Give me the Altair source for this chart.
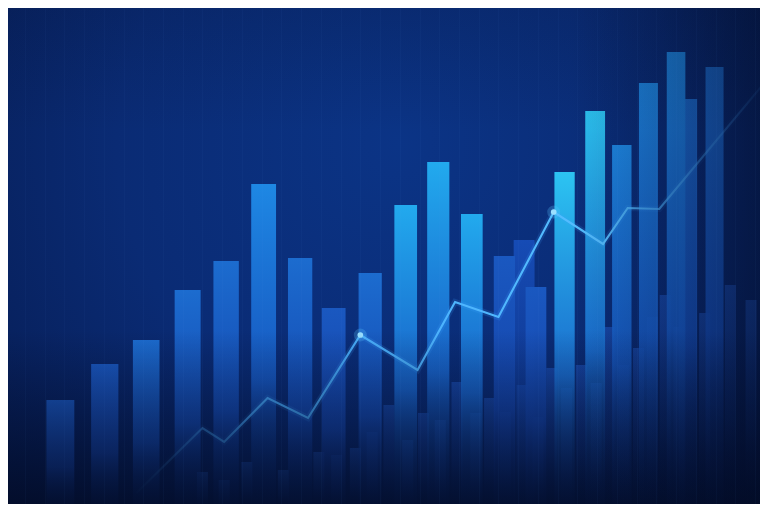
import altair as alt
import pandas as pd

# ---- data ----
# foreground bars: position along the time axis and value
bar_pos = [56, 101, 143, 185, 224, 262, 299, 333, 370, 406, 439, 473, 506, 526, 538, 567, 598, 625, 652, 680, 692, 719]
bar_val = [112, 148, 172, 222, 251, 328, 254, 204, 239, 307, 350, 298, 256, 272, 225, 340, 401, 367, 429, 460, 413, 445]
bar_tone = ["t1", "t1", "t2", "t2", "t2", "t3", "t2", "t1", "t2", "t4", "t4", "t4",
            "t1", "t0", "t1", "t5", "t5", "t3", "t3", "t3", "t2", "t2"]

# faint background volume bars
low_pos = [200, 222, 245, 282, 318, 336, 355, 372, 389, 408, 424, 441, 458, 477, 491, 507, 524, 540, 554,
           569, 584, 599, 612, 627, 642, 656, 669, 683, 709, 735, 756]
low_val = [40, 32, 50, 42, 60, 57, 64, 80, 107, 72, 99, 92, 130, 99, 114, 100, 127, 95, 144, 124, 147, 129,
           185, 147, 164, 195, 217, 185, 199, 227, 212]

# trend line
line_pos = [133, 200, 222, 266, 307, 360, 418, 456, 500, 556, 606, 631, 663, 766]
line_val = [19, 84, 70, 114, 94, 177, 142, 210, 195, 300, 268, 304, 303, 425]

# highlighted points on the line
hl_pos = [360, 556]
hl_val = [177, 300]

bars = pd.DataFrame({"pos": bar_pos, "val": bar_val, "tone": bar_tone})
lows = pd.DataFrame({"pos": low_pos, "val": low_val})
line = pd.DataFrame({"pos": line_pos, "val": line_val})
hls = pd.DataFrame({"pos": hl_pos, "val": hl_val})
dummy = pd.DataFrame({"a": [0]})

W, H = 752, 496
xs = alt.Scale(domain=[8, 760], nice=False, zero=False)
ys = alt.Scale(domain=[8, 504], nice=False, zero=False)


def vgrad(stops):
    return {"gradient": "linear", "x1": 0, "x2": 0, "y1": 0, "y2": 1,
            "stops": [{"offset": o, "color": c} for o, c in stops]}


def hgrad(stops):
    return {"gradient": "linear", "x1": 0, "x2": 1, "y1": 0, "y2": 0,
            "stops": [{"offset": o, "color": c} for o, c in stops]}


bg = alt.Chart(dummy).mark_rect(
    fill={"gradient": "radial", "x1": 0.52, "y1": 0.35, "r1": 0, "x2": 0.52, "y2": 0.35, "r2": 0.75,
          "stops": [{"offset": 0, "color": "#0b3486"},
                    {"offset": 0.5, "color": "#0a2b74"},
                    {"offset": 1, "color": "#061a4e"}]}
).encode(x=alt.value(0), x2=alt.value(W), y=alt.value(0), y2=alt.value(H))

X = alt.X("pos:Q", scale=xs, axis=alt.Axis(grid=True, labels=False, ticks=False, domain=False, title=None,
                                            gridColor="#6aa8ff", gridOpacity=0.035, tickCount=30, zindex=1))
Y = alt.Y("val:Q", scale=ys, axis=None)
width_enc = alt.Size("pos:Q", scale=alt.Scale(domain=[50, 720], range=[28, 18]), legend=None)

low_layer = alt.Chart(lows).mark_bar(
    clip=True,
    fill=vgrad([(0, "rgba(35,95,210,0.5)"), (0.6, "rgba(25,75,180,0.28)"), (1, "rgba(10,40,110,0)")]),
).encode(x=X, y=Y, y2=alt.datum(0), size=alt.value(11))


def tone_layer(tone, top, mid):
    return alt.Chart(bars).transform_filter(alt.datum.tone == tone).mark_bar(
        clip=True,
        fill=vgrad([(0, top), (0.6, mid), (1, "rgba(14,50,135,0.2)")]),
    ).encode(x=X, y=Y, y2=alt.datum(0), size=width_enc)


tone_layers = [
    tone_layer("t0", "rgba(26,85,200,0.75)", "rgba(20,70,175,0.5)"),
    tone_layer("t1", "#1a58c0", "rgba(22,72,178,0.9)"),
    tone_layer("t2", "#1c6ccf", "rgba(22,78,185,0.9)"),
    tone_layer("t3", "#1e88e4", "rgba(24,92,200,0.9)"),
    tone_layer("t4", "#22aaee", "rgba(26,105,210,0.9)"),
    tone_layer("t5", "#2cc4f2", "rgba(28,115,215,0.9)"),
]

line_glow = alt.Chart(line).mark_line(
    clip=True, strokeWidth=6,
    stroke=hgrad([(0, "rgba(60,160,255,0)"), (0.3, "rgba(60,160,255,0.18)"), (0.75, "rgba(60,160,255,0.14)"),
                  (1, "rgba(60,160,255,0)")]),
).encode(x=X, y=Y)

line_main = alt.Chart(line).mark_line(
    clip=True, strokeWidth=2.1,
    stroke=hgrad([(0, "rgba(70,170,255,0.05)"), (0.2, "rgba(70,172,255,0.95)"), (0.75, "rgba(85,190,255,1)"),
                  (1, "rgba(60,150,240,0.15)")]),
).encode(x=X, y=Y)

pt_glow = alt.Chart(hls).mark_circle(color="#5cc8ff", opacity=0.25, size=170).encode(x=X, y=Y)
pt_main = alt.Chart(hls).mark_circle(color="#9be0ff", opacity=1, size=32).encode(x=X, y=Y)

vignette = alt.Chart(dummy).mark_rect(
    fill=vgrad([(0, "rgba(4,14,45,0.15)"), (0.25, "rgba(3,12,40,0)"), (0.65, "rgba(3,12,40,0)"),
                (1, "rgba(2,10,34,0.8)")])
).encode(x=alt.value(0), x2=alt.value(W), y=alt.value(0), y2=alt.value(H))

right_shade = alt.Chart(dummy).mark_rect(
    fill=hgrad([(0, "rgba(3,12,40,0)"), (0.75, "rgba(3,12,40,0)"), (1, "rgba(2,10,34,0.5)")])
).encode(x=alt.value(0), x2=alt.value(W), y=alt.value(0), y2=alt.value(H))

chart = alt.layer(
    bg, low_layer, *tone_layers, line_glow, line_main, pt_glow, pt_main, vignette, right_shade
).properties(
    width=W, height=H, padding=0, autosize=alt.AutoSizeParams(type="none"), background="#06194d"
).configure_view(stroke=None)

chart.save("out.html", embed_options={"renderer": "svg", "actions": False})
